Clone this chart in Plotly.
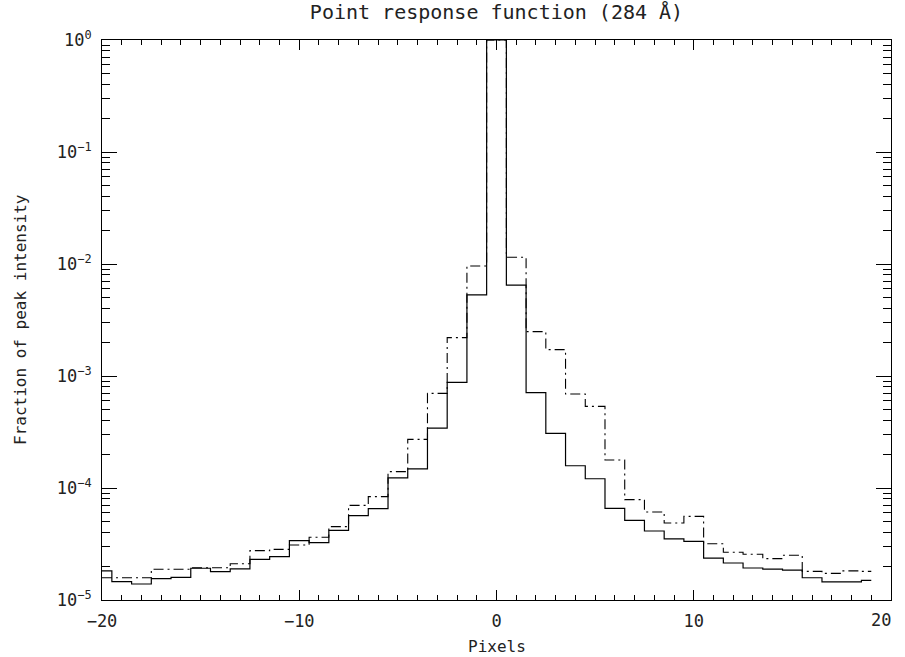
import plotly.graph_objects as go

# Pixel offsets (bin centres)
pixels = list(range(-20, 20))

# Solid curve
solid_vals = [1.82e-5, 1.46e-5, 1.39e-5, 1.55e-5, 1.59e-5, 1.92e-5, 1.79e-5, 1.90e-5,
              2.31e-5, 2.44e-5, 3.39e-5, 3.25e-5, 4.19e-5, 5.66e-5, 6.54e-5, 1.23e-4,
              1.48e-4, 3.43e-4, 8.78e-4, 5.3e-3, 1.0, 6.49e-3, 7.1e-4, 3.08e-4,
              1.58e-4, 1.21e-4, 6.58e-5, 5.14e-5, 4.13e-5, 3.51e-5, 3.34e-5, 2.37e-5,
              2.14e-5, 1.93e-5, 1.89e-5, 1.85e-5, 1.58e-5, 1.45e-5, 1.45e-5, 1.50e-5]

# Dash-dot curve
dashdot_vals = [1.58e-5, 1.58e-5, 1.58e-5, 1.88e-5, 1.88e-5, 1.94e-5, 1.94e-5, 2.11e-5,
                2.76e-5, 2.83e-5, 3.1e-5, 3.63e-5, 4.52e-5, 7.0e-5, 8.37e-5, 1.40e-4,
                2.72e-4, 7.0e-4, 2.20e-3, 9.6e-3, 1.0, 1.15e-2, 2.49e-3, 1.72e-3,
                6.91e-4, 5.36e-4, 1.78e-4, 7.87e-5, 6.1e-5, 4.87e-5, 5.58e-5, 3.18e-5,
                2.67e-5, 2.56e-5, 2.34e-5, 2.51e-5, 1.80e-5, 1.73e-5, 1.82e-5, 1.80e-5]

x_tickvals = [-20, -10, 0, 10, 20]
x_ticktext = ["\u221220", "\u221210", "0", "10", "20"]
y_tickvals = [1e-5, 1e-4, 1e-3, 1e-2, 1e-1, 1]
y_ticktext = ["10<sup>\u22125</sup>", "10<sup>\u22124</sup>", "10<sup>\u22123</sup>",
              "10<sup>\u22122</sup>", "10<sup>\u22121</sup>", "10<sup>0</sup>"]
y_minor = [m * 10.0 ** e for e in range(-5, 0) for m in range(2, 10)]

FONT = "DejaVu Sans Mono"
TXT = "#222"

fig = go.Figure()
fig.add_trace(go.Scatter(x=pixels, y=dashdot_vals, mode="lines",
                         line=dict(shape="hvh", color="black", width=1.1,
                                   dash="10px,4px,2px,4px")))
fig.add_trace(go.Scatter(x=pixels, y=solid_vals, mode="lines",
                         line=dict(shape="hvh", color="black", width=1.2)))

fig.update_layout(
    width=905, height=657,
    margin=dict(l=102, r=14, t=40, b=57, autoexpand=False),
    plot_bgcolor="white", paper_bgcolor="white",
    showlegend=False,
    font=dict(family=FONT, size=16, color=TXT),
    title=dict(text="Point response function (284 \u00c5)", x=0.5, xref="paper",
               xanchor="center", y=1 - 12 / 657, yref="container", yanchor="middle",
               font=dict(family=FONT, size=20, color=TXT)),
)

# last x tick label is drawn as an annotation, nudged inward to stay on the page
fig.update_xaxes(
    range=[-20, 20], tickmode="array", tickvals=x_tickvals,
    ticktext=x_ticktext[:-1] + [""],
    ticks="inside", ticklen=10, tickwidth=1, tickcolor="black",
    showline=True, linecolor="black", linewidth=1, mirror="ticks",
    showgrid=False, zeroline=False, ticklabelstandoff=6, automargin=False,
    tickfont=dict(family=FONT, size=17, color=TXT),
    minor=dict(dtick=1, tick0=0, ticks="inside", ticklen=5, tickwidth=1,
               tickcolor="black", showgrid=False),
)
fig.update_yaxes(
    type="log", range=[-5, 0], tickmode="array", tickvals=y_tickvals, ticktext=y_ticktext,
    ticks="inside", ticklen=15, tickwidth=1, tickcolor="black",
    showline=True, linecolor="black", linewidth=1, mirror="ticks",
    showgrid=False, zeroline=False, ticklabelstandoff=6, automargin=False,
    tickfont=dict(family=FONT, size=17, color=TXT),
    minor=dict(tickmode="array", tickvals=y_minor, ticks="inside", ticklen=8,
               tickwidth=1, tickcolor="black", showgrid=False),
)

fig.add_annotation(text=x_ticktext[-1], x=x_tickvals[-1], xref="x", yref="paper",
                   y=(600 - 620) / 560, xanchor="center", yanchor="middle", xshift=-10,
                   showarrow=False, font=dict(family=FONT, size=17, color=TXT))
fig.add_annotation(text="Pixels", xref="paper", yref="paper", x=0.5,
                   y=(600 - 646) / 560, xanchor="center", yanchor="middle",
                   showarrow=False, font=dict(family=FONT, size=16, color=TXT))
fig.add_annotation(text="Fraction of peak intensity", xref="paper", yref="paper",
                   x=(20 - 102) / 789, y=0.5, xanchor="center", yanchor="middle",
                   textangle=-90, showarrow=False,
                   font=dict(family=FONT, size=16, color=TXT))

fig.write_html("out.html", config={"displayModeBar": False},
               post_script="document.body.style.margin='0px';document.body.style.overflow='hidden';")
